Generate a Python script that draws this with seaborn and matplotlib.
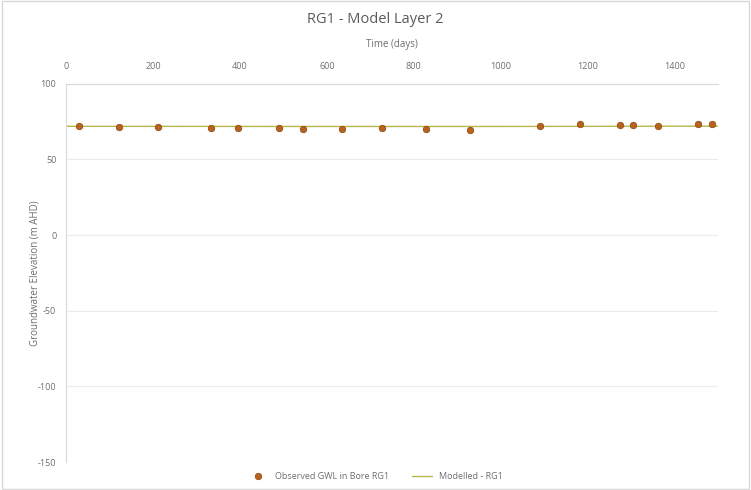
import matplotlib
matplotlib.use("Agg")
import matplotlib.pyplot as plt
import seaborn as sns
import pandas as pd

# Observed groundwater levels in bore RG1
obs_days = [30, 122, 211, 333, 395, 489, 546, 636, 728, 829, 930,
            1090, 1182, 1274, 1304, 1363, 1455, 1487]
obs_gwl = [71.9, 71.4, 71.2, 71.1, 71.0, 70.6, 70.4, 70.4, 70.6, 70.1, 69.6,
           71.9, 73.2, 72.5, 72.5, 72.3, 73.4, 73.4]

# Modelled head for layer 2
mod_days = [0, 500, 1000, 1500]
mod_gwl = [71.9, 71.8, 71.8, 72.0]

x_ticks = [0, 200, 400, 600, 800, 1000, 1200, 1400]
y_ticks = [100, 50, 0, -50, -100, -150]

obs = pd.DataFrame({"day": obs_days, "gwl": obs_gwl})
mod = pd.DataFrame({"day": mod_days, "gwl": mod_gwl})

sns.set_theme(style="white")
plt.rcParams["font.family"] = ["Open Sans", "DejaVu Sans"]
plt.rcParams["axes.unicode_minus"] = False

grey_txt = "#6e6e6e"
fig = plt.figure(figsize=(7.51, 4.90), dpi=100)
ax = fig.add_axes([0.088, 0.057, 0.868, 0.772])

sns.lineplot(data=mod, x="day", y="gwl", ax=ax, color="#b9b64a", lw=1.0,
             label="Modelled - RG1", zorder=2)
sns.scatterplot(data=obs, x="day", y="gwl", ax=ax, color="#b8621b",
                edgecolor="#8a4510", linewidth=0.5, s=22,
                label="Observed GWL in Bore RG1", zorder=3)

ax.set_xlim(0, 1500)
ax.set_ylim(-150, 100)
ax.set_xticks(x_ticks)
ax.set_yticks(y_ticks)
ax.xaxis.tick_top()
ax.xaxis.set_label_position("top")
ax.tick_params(axis="x", length=0, labelsize=6.5, colors=grey_txt, pad=9)
ax.tick_params(axis="y", length=0, labelsize=6.5, colors=grey_txt, pad=7)
ax.grid(axis="y", color="#ececec", lw=0.8)

for side in ["right", "bottom"]:
    ax.spines[side].set_visible(False)
ax.spines["left"].set_color("#d9d9d9")
ax.spines["top"].set_color("#d9d9d9")
ax.spines["left"].set_linewidth(0.8)
ax.spines["top"].set_linewidth(0.8)

ax.set_xlabel("Time (days)", fontsize=7, color=grey_txt)
ax.set_ylabel("Groundwater Elevation (m AHD)", fontsize=7, color=grey_txt)
ax.xaxis.set_label_coords(0.5, 1.097)
ax.yaxis.set_label_coords(-0.04, 0.5)

fig.suptitle("RG1 - Model Layer 2", y=0.975, fontsize=10.5, color="#5a5a5a")

handles, labels = ax.get_legend_handles_labels()
order = [1, 0]
ax.legend([handles[i] for i in order], [labels[i] for i in order],
          loc="center", bbox_to_anchor=(0.5, 0.028),
          bbox_transform=fig.transFigure, ncol=2, frameon=False,
          fontsize=6.5, labelcolor=grey_txt, handlelength=2.2,
          columnspacing=2.5)

# light chart-area border
fig.patches.append(plt.Rectangle((0.002, 0.002), 0.996, 0.996,
                                 transform=fig.transFigure, fill=False,
                                 edgecolor="#d9d9d9", lw=1.0))

fig.savefig("out.png", dpi=100)
